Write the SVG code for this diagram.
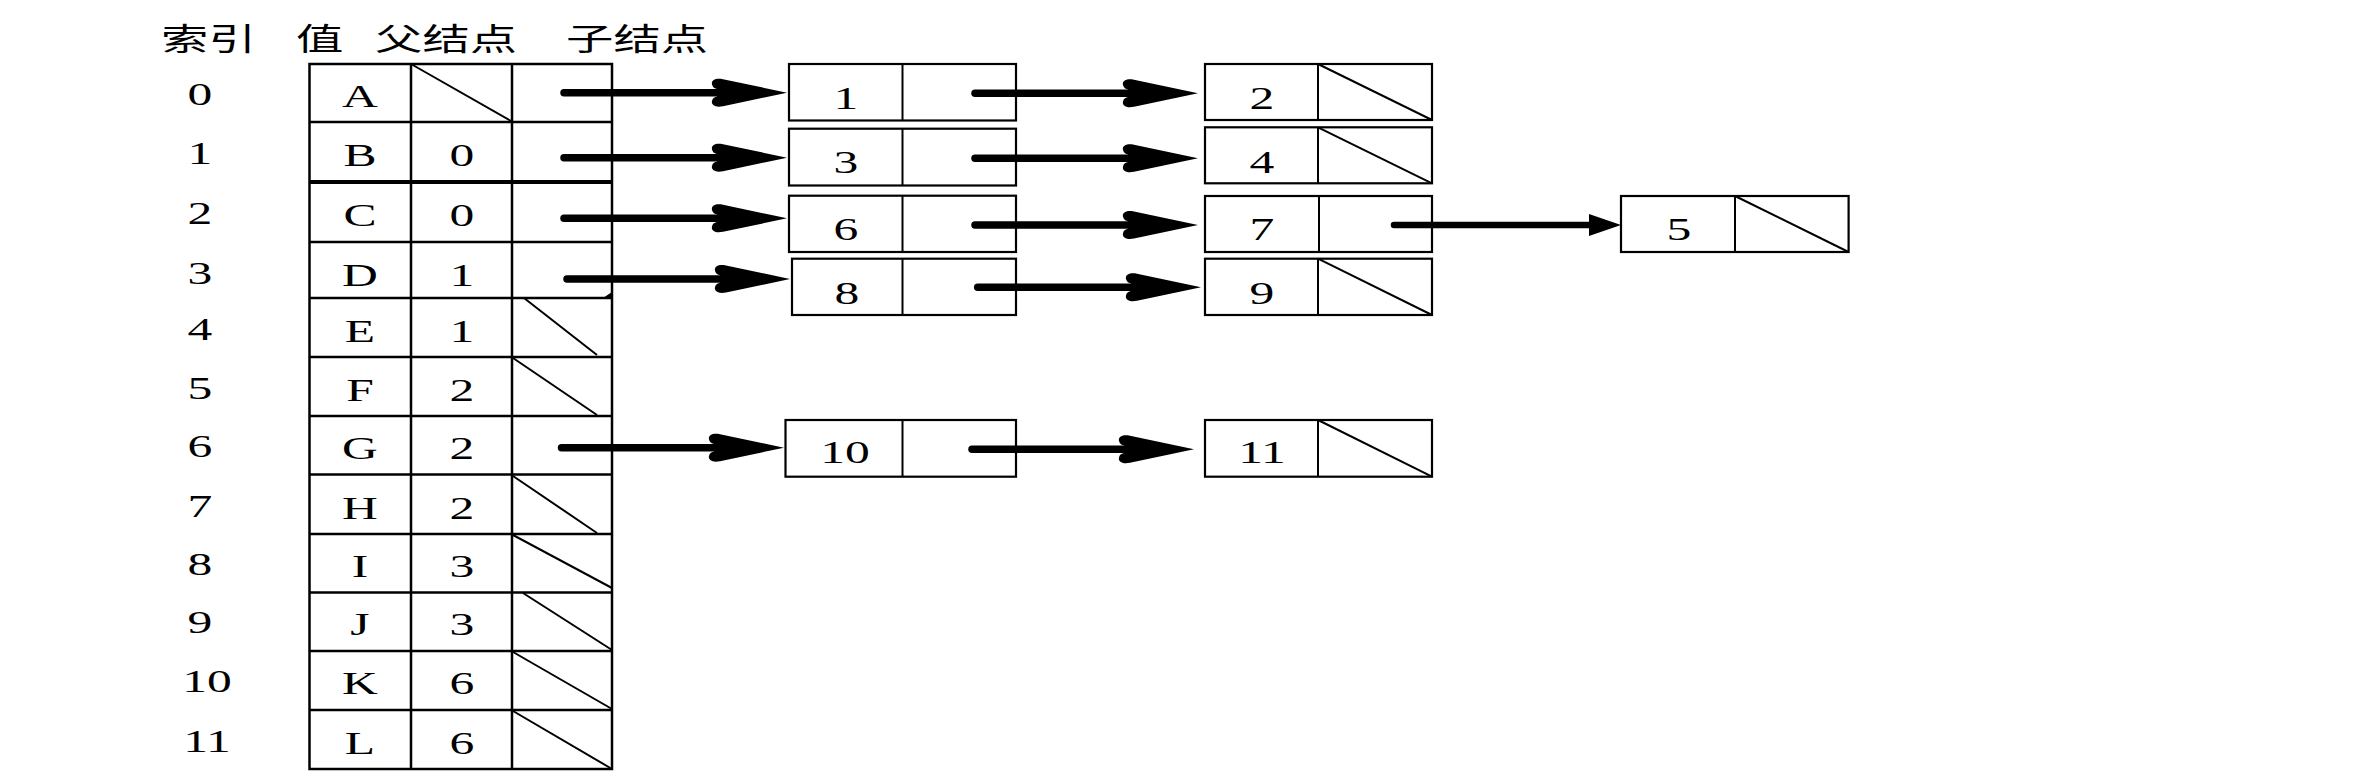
<svg xmlns="http://www.w3.org/2000/svg" width="2359" height="784" viewBox="0 0 2359 784">
<style>
.g{stroke:#000;stroke-width:2.5;fill:none}
.b{stroke:#000;stroke-width:2.2;fill:#fff}
.s{stroke:#000;stroke-width:2;fill:none}
.t{font-family:"Liberation Serif","Times New Roman",serif;font-size:31px;fill:#000;text-anchor:middle}
.h{font-family:"Noto Sans CJK SC","Noto Sans",sans-serif;font-size:31px;fill:#000}
.sh{stroke:#000;stroke-width:7.5;stroke-linecap:round;fill:none}
</style>
<defs>
<path id="bighead" d="M0,0 L-64,-13.5 C-72,-15.2 -76,-12 -75,-8.2 C-74.5,-5.5 -72,-4 -70,-3.8 L-70,3.8 C-72,4 -74.5,5.5 -75,8.2 C-76,12 -72,15.2 -64,13.5 Z" fill="#000"/>
<path id="smallhead" d="M0,0 L-32,-11 L-32,11 Z" fill="#000"/>
</defs>
<rect width="2359" height="784" fill="#fff"/>
<g id="header">
<text class="h" transform="translate(161,50) scale(1.53,1)">索引</text>
<text class="h" transform="translate(296,50) scale(1.53,1)">值</text>
<text class="h" transform="translate(375,50) scale(1.53,1)">父结点</text>
<text class="h" transform="translate(566,50) scale(1.53,1)">子结点</text>
</g>
<g id="table">
<rect class="g" x="309.5" y="64" width="302.5" height="705"/>
<line class="g" x1="411" y1="64" x2="411" y2="769"/>
<line class="g" x1="512" y1="64" x2="512" y2="769"/>
<line class="g" x1="309.5" y1="122" x2="612" y2="122"/>
<line class="g" x1="309.5" y1="182" x2="612" y2="182" style="stroke-width:4"/>
<line class="g" x1="309.5" y1="242" x2="612" y2="242"/>
<line class="g" x1="309.5" y1="298" x2="612" y2="298"/>
<line class="g" x1="309.5" y1="357" x2="612" y2="357"/>
<line class="g" x1="309.5" y1="416" x2="612" y2="416"/>
<line class="g" x1="309.5" y1="474.5" x2="612" y2="474.5"/>
<line class="g" x1="309.5" y1="534" x2="612" y2="534"/>
<line class="g" x1="309.5" y1="592.5" x2="612" y2="592.5"/>
<line class="g" x1="309.5" y1="651" x2="612" y2="651"/>
<line class="g" x1="309.5" y1="710" x2="612" y2="710"/>
<polygon points="603,298 612,292 612,298" fill="#000"/>
</g>
<g id="row-0">
<text class="t" transform="translate(200,105) scale(1.6,1)">0</text>
<text class="t" transform="translate(360,107) scale(1.6,1)">A</text>
<line class="s" x1="411" y1="64" x2="511" y2="121"/>
</g>
<g id="row-1">
<text class="t" transform="translate(200,164) scale(1.6,1)">1</text>
<text class="t" transform="translate(360,166) scale(1.6,1)">B</text>
<text class="t" transform="translate(462,166) scale(1.6,1)">0</text>
</g>
<g id="row-2">
<text class="t" transform="translate(200,224) scale(1.6,1)">2</text>
<text class="t" transform="translate(360,226) scale(1.6,1)">C</text>
<text class="t" transform="translate(462,226) scale(1.6,1)">0</text>
</g>
<g id="row-3">
<text class="t" transform="translate(200,284) scale(1.6,1)">3</text>
<text class="t" transform="translate(360,286) scale(1.6,1)">D</text>
<text class="t" transform="translate(462,286) scale(1.6,1)">1</text>
</g>
<g id="row-4">
<text class="t" transform="translate(200,340) scale(1.6,1)">4</text>
<text class="t" transform="translate(360,342) scale(1.6,1)">E</text>
<text class="t" transform="translate(462,342) scale(1.6,1)">1</text>
<line class="s" x1="524" y1="298" x2="597" y2="355"/>
</g>
<g id="row-5">
<text class="t" transform="translate(200,399) scale(1.6,1)">5</text>
<text class="t" transform="translate(360,401) scale(1.6,1)">F</text>
<text class="t" transform="translate(462,401) scale(1.6,1)">2</text>
<line class="s" x1="513" y1="358" x2="597" y2="415"/>
</g>
<g id="row-6">
<text class="t" transform="translate(200,457) scale(1.6,1)">6</text>
<text class="t" transform="translate(360,459) scale(1.6,1)">G</text>
<text class="t" transform="translate(462,459) scale(1.6,1)">2</text>
</g>
<g id="row-7">
<text class="t" transform="translate(200,517) scale(1.6,1)">7</text>
<text class="t" transform="translate(360,519) scale(1.6,1)">H</text>
<text class="t" transform="translate(462,519) scale(1.6,1)">2</text>
<line class="s" x1="513" y1="476" x2="597" y2="533"/>
</g>
<g id="row-8">
<text class="t" transform="translate(200,575) scale(1.6,1)">8</text>
<text class="t" transform="translate(360,577) scale(1.6,1)">I</text>
<text class="t" transform="translate(462,577) scale(1.6,1)">3</text>
<line class="s" x1="513" y1="535" x2="612" y2="588"/>
</g>
<g id="row-9">
<text class="t" transform="translate(200,633) scale(1.6,1)">9</text>
<text class="t" transform="translate(360,635) scale(1.6,1)">J</text>
<text class="t" transform="translate(462,635) scale(1.6,1)">3</text>
<line class="s" x1="523" y1="593" x2="612" y2="650"/>
</g>
<g id="row-10">
<text class="t" transform="translate(207,692) scale(1.6,1)">10</text>
<text class="t" transform="translate(360,694) scale(1.6,1)">K</text>
<text class="t" transform="translate(462,694) scale(1.6,1)">6</text>
<line class="s" x1="513" y1="652" x2="612" y2="709"/>
</g>
<g id="row-11">
<text class="t" transform="translate(207,752) scale(1.6,1)">11</text>
<text class="t" transform="translate(360,754) scale(1.6,1)">L</text>
<text class="t" transform="translate(462,754) scale(1.6,1)">6</text>
<line class="s" x1="513" y1="711" x2="612" y2="769"/>
</g>
<g id="node-1">
<rect class="b" x="789" y="64" width="227" height="56.5"/>
<line class="s" x1="902.5" y1="64" x2="902.5" y2="120.5"/>
<text class="t" transform="translate(846,109) scale(1.6,1)">1</text>
</g>
<g id="node-3">
<rect class="b" x="789" y="128.7" width="227" height="56.8"/>
<line class="s" x1="902.5" y1="128.7" x2="902.5" y2="185.5"/>
<text class="t" transform="translate(846,173) scale(1.6,1)">3</text>
</g>
<g id="node-6">
<rect class="b" x="789" y="195.7" width="227" height="56.3"/>
<line class="s" x1="902.5" y1="195.7" x2="902.5" y2="252"/>
<text class="t" transform="translate(846,240) scale(1.6,1)">6</text>
</g>
<g id="node-8">
<rect class="b" x="792" y="258.7" width="224" height="56.3"/>
<line class="s" x1="902.5" y1="258.7" x2="902.5" y2="315"/>
<text class="t" transform="translate(847,304) scale(1.6,1)">8</text>
</g>
<g id="node-10">
<rect class="b" x="785.5" y="420" width="230.5" height="56.7"/>
<line class="s" x1="902.5" y1="420" x2="902.5" y2="476.7"/>
<text class="t" transform="translate(845,463) scale(1.6,1)">10</text>
</g>
<g id="node-2">
<rect class="b" x="1205" y="64" width="227" height="56"/>
<line class="s" x1="1318" y1="64" x2="1318" y2="120"/>
<line class="s" x1="1318" y1="64" x2="1432" y2="120"/>
<text class="t" transform="translate(1262,109) scale(1.6,1)">2</text>
</g>
<g id="node-4">
<rect class="b" x="1205" y="127.3" width="227" height="56"/>
<line class="s" x1="1318" y1="127.3" x2="1318" y2="183.3"/>
<line class="s" x1="1318" y1="127.3" x2="1432" y2="183.3"/>
<text class="t" transform="translate(1262,173) scale(1.6,1)">4</text>
</g>
<g id="node-7">
<rect class="b" x="1205" y="196" width="227" height="56"/>
<line class="s" x1="1319" y1="196" x2="1319" y2="252"/>
<text class="t" transform="translate(1262,240) scale(1.6,1)">7</text>
</g>
<g id="node-9">
<rect class="b" x="1205" y="258.7" width="227" height="56.3"/>
<line class="s" x1="1318" y1="258.7" x2="1318" y2="315"/>
<line class="s" x1="1318" y1="258.7" x2="1432" y2="315"/>
<text class="t" transform="translate(1262,304) scale(1.6,1)">9</text>
</g>
<g id="node-11">
<rect class="b" x="1205" y="420" width="227" height="56.7"/>
<line class="s" x1="1318" y1="420" x2="1318" y2="476.7"/>
<line class="s" x1="1318" y1="420" x2="1432" y2="476.7"/>
<text class="t" transform="translate(1262,463) scale(1.6,1)">11</text>
</g>
<g id="node-5">
<rect class="b" x="1621" y="196" width="227.6" height="56"/>
<line class="s" x1="1735" y1="196" x2="1735" y2="252"/>
<line class="s" x1="1735" y1="196" x2="1848.6" y2="252"/>
<text class="t" transform="translate(1679,239.5) scale(1.6,1)">5</text>
</g>
<g id="connectors">
<line class="sh" x1="564" y1="92.7" x2="718" y2="92.7"/>
<use href="#bighead" transform="translate(787,92.7)"/>
<line class="sh" x1="564" y1="157.7" x2="718" y2="157.7"/>
<use href="#bighead" transform="translate(787,157.7)"/>
<line class="sh" x1="564" y1="218.3" x2="718" y2="218.3"/>
<use href="#bighead" transform="translate(787,218.3)"/>
<line class="sh" x1="567" y1="279" x2="720" y2="279"/>
<use href="#bighead" transform="translate(790,279)"/>
<line class="sh" x1="561.5" y1="447.7" x2="714" y2="447.7"/>
<use href="#bighead" transform="translate(784,447.7)"/>
<line class="sh" x1="975" y1="93.3" x2="1128" y2="93.3"/>
<use href="#bighead" transform="translate(1198,93.3)"/>
<line class="sh" x1="975" y1="158.3" x2="1128" y2="158.3"/>
<use href="#bighead" transform="translate(1198,158.3)"/>
<line class="sh" x1="975" y1="225" x2="1128" y2="225"/>
<use href="#bighead" transform="translate(1198,225)"/>
<line class="sh" x1="977.7" y1="287.3" x2="1131" y2="287.3"/>
<use href="#bighead" transform="translate(1201,287.3)"/>
<line class="sh" x1="972" y1="449.3" x2="1124" y2="449.3"/>
<use href="#bighead" transform="translate(1194,449.3)"/>
<line class="sh" x1="1394" y1="225" x2="1592" y2="225" style="stroke-width:6.5"/>
<use href="#smallhead" transform="translate(1621,225)"/>
</g>
</svg>
